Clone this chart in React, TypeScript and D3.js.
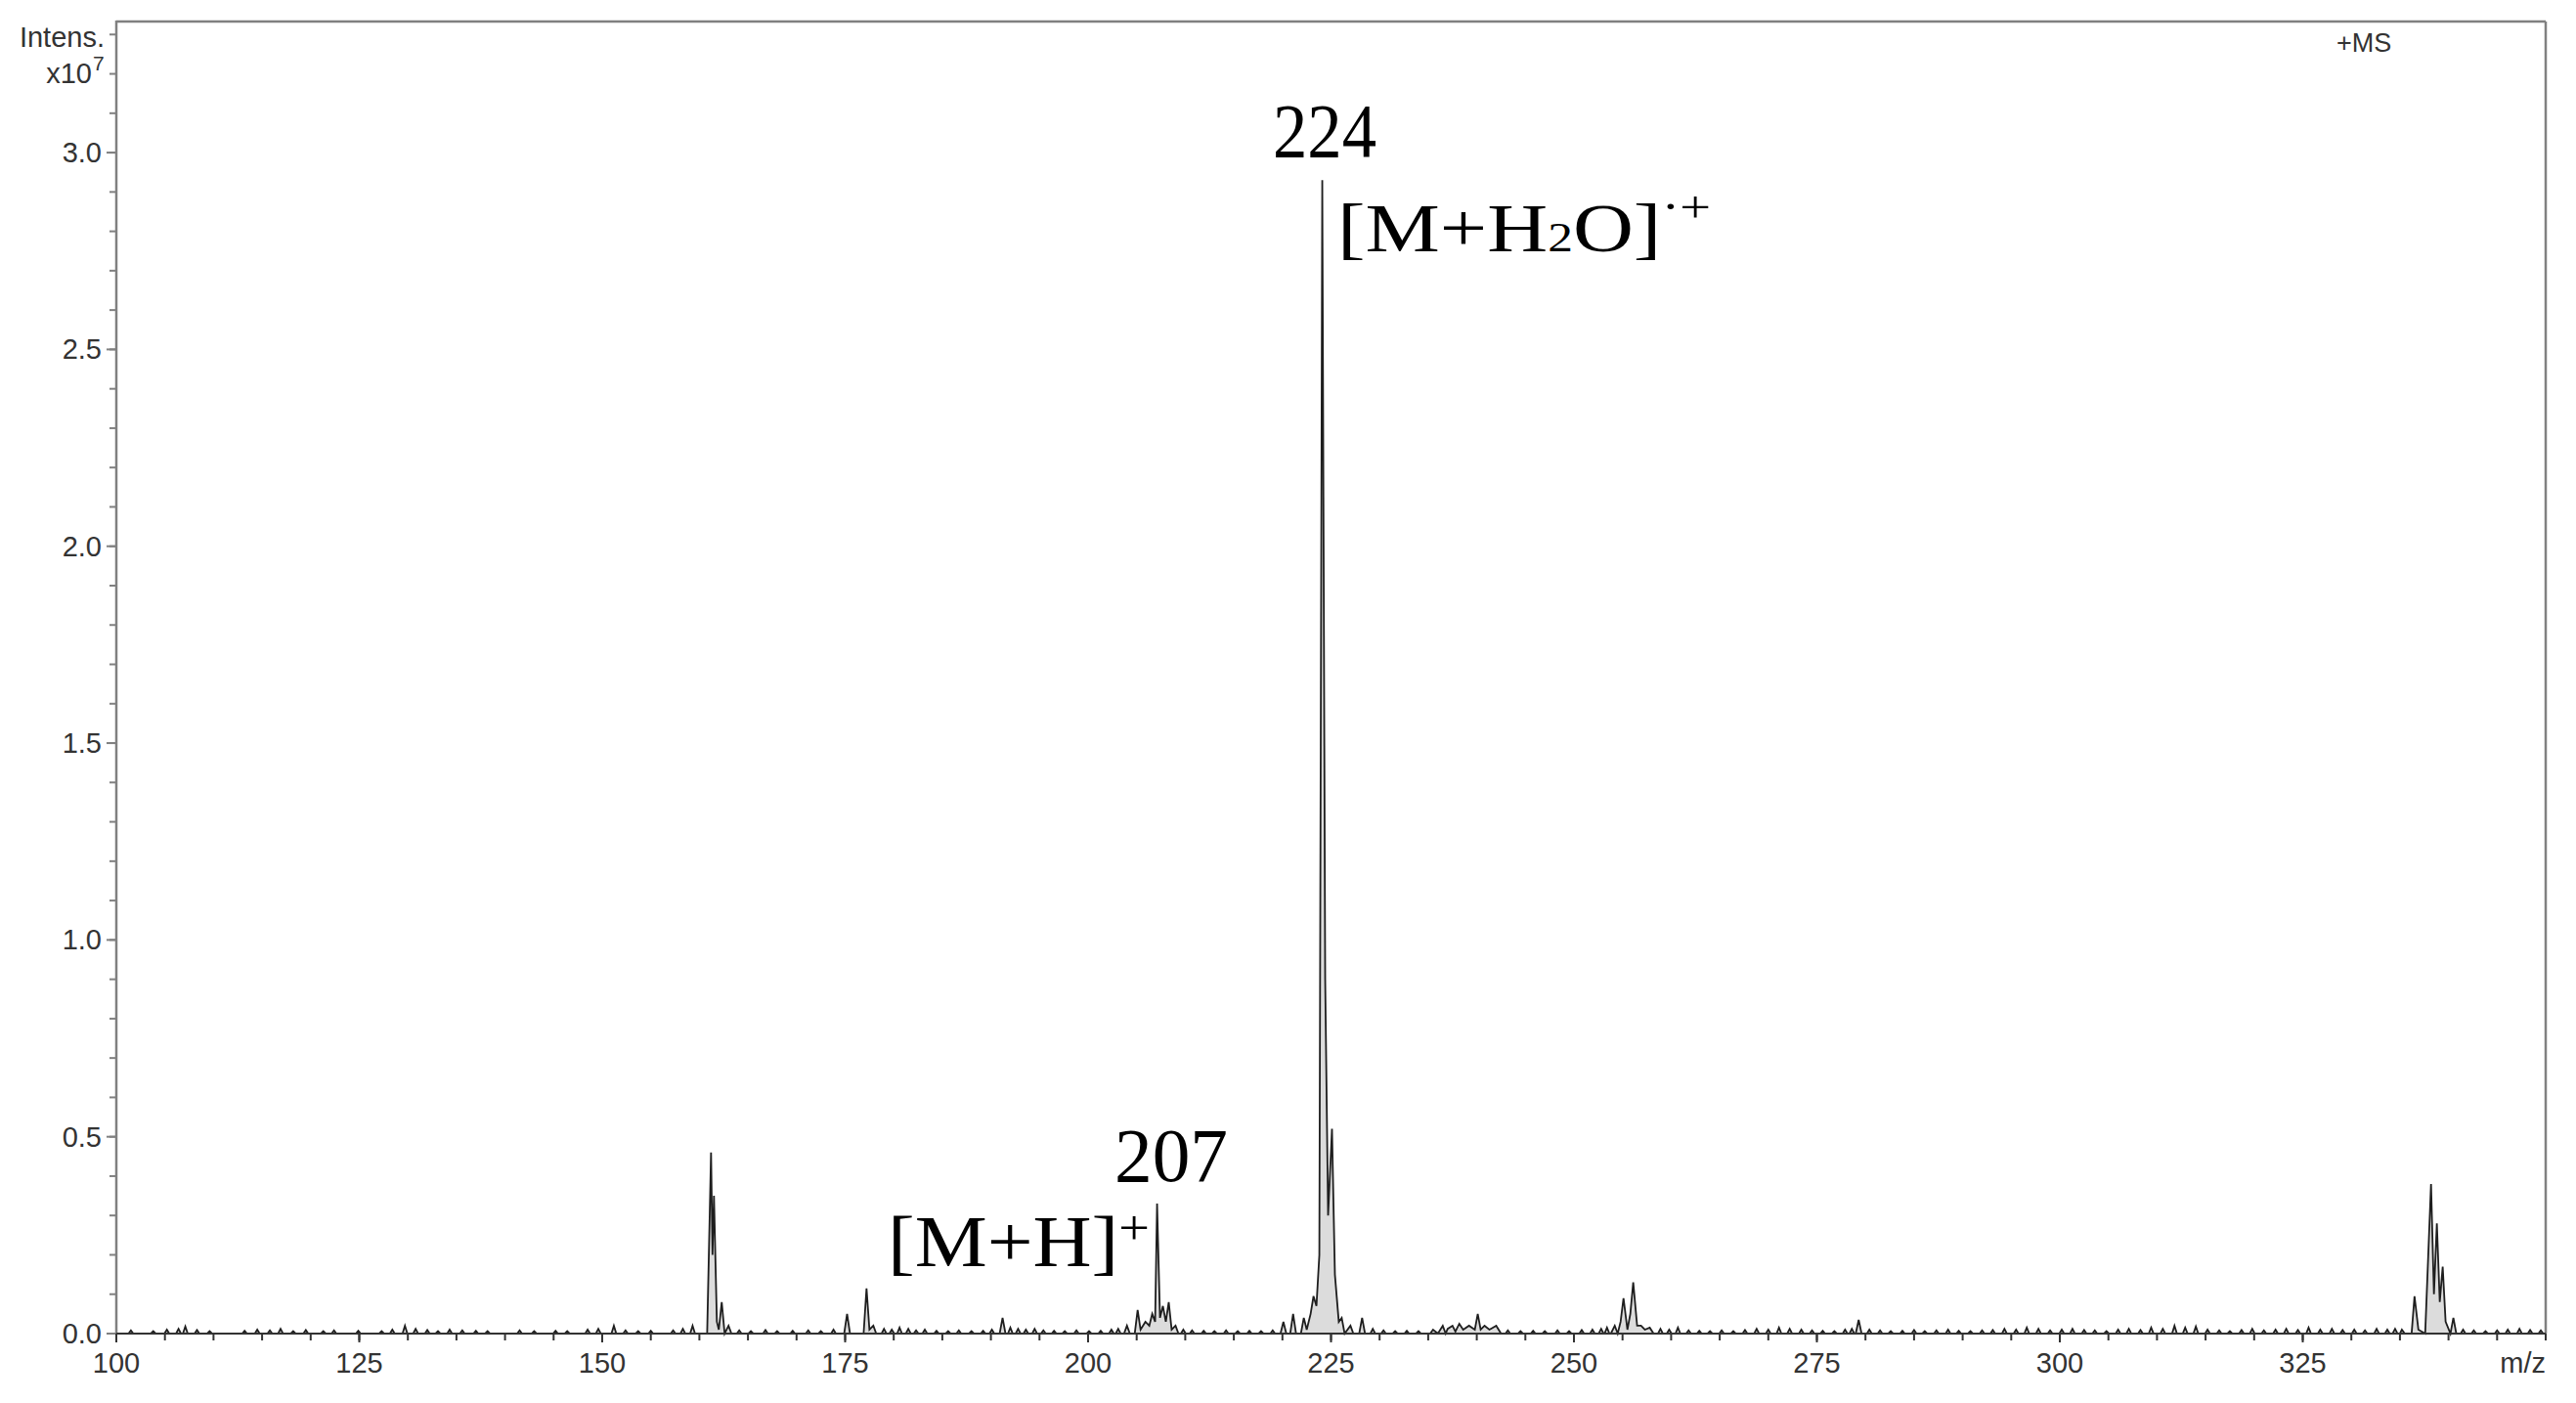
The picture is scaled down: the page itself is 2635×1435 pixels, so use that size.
import React, { useEffect } from 'react';
import * as d3 from 'd3';

// ---- data (intensity in units of 1e7) ----
const xTickValues = [100, 125, 150, 175, 200, 225, 250, 275, 300, 325];
const yTickValues = [0, 0.5, 1.0, 1.5, 2.0, 2.5, 3.0];

// explicit profile points of the peak clusters [m/z, intensity]
const cluster161: [number, number][] = [
  [160.8, 0], [161.2, 0.46], [161.35, 0.2], [161.5, 0.35], [161.8, 0.03], [162.0, 0.01], [162.3, 0.08], [162.6, 0], [163.0, 0.02], [163.3, 0],
];
const cluster177: [number, number][] = [
  [174.9, 0], [175.2, 0.05], [175.5, 0], [176.9, 0], [177.2, 0.115], [177.5, 0.01], [177.9, 0.02], [178.2, 0],
];
const cluster191: [number, number][] = [[190.9, 0], [191.2, 0.04], [191.5, 0]];
const cluster207: [number, number][] = [
  [203.7, 0], [204.0, 0.02], [204.3, 0], [204.8, 0], [205.1, 0.06], [205.4, 0.01], [205.9, 0.03], [206.3, 0.02], [206.6, 0.05],
  [206.9, 0.03], [207.1, 0.33], [207.4, 0.04], [207.7, 0.07], [208.0, 0.03], [208.3, 0.08], [208.6, 0.01], [209.0, 0.02], [209.3, 0],
];
const cluster224: [number, number][] = [
  [219.8, 0], [220.1, 0.03], [220.4, 0], [220.8, 0], [221.1, 0.05], [221.4, 0], [221.9, 0], [222.2, 0.04], [222.5, 0.01],
  [222.9, 0.05], [223.2, 0.095], [223.5, 0.07], [223.8, 0.2], [224.1, 2.93], [224.4, 0.9], [224.7, 0.3], [225.1, 0.52],
  [225.4, 0.15], [225.8, 0.03], [226.1, 0.04], [226.4, 0], [227.0, 0.02], [227.3, 0], [227.9, 0], [228.2, 0.04], [228.5, 0],
];
const cluster240: [number, number][] = [
  [235.2, 0], [235.5, 0.01], [236.0, 0], [236.5, 0.02], [236.8, 0], [237.0, 0.012], [237.5, 0.02], [237.8, 0.005], [238.2, 0.025],
  [238.6, 0.01], [239.2, 0.02], [239.8, 0.01], [240.1, 0.05], [240.4, 0.01], [240.8, 0.02], [241.3, 0.01], [242.0, 0.02], [242.5, 0],
];
const cluster256: [number, number][] = [
  [253.8, 0], [254.2, 0.02], [254.5, 0], [254.8, 0.03], [255.1, 0.09], [255.5, 0.01], [255.8, 0.05], [256.1, 0.13], [256.5, 0.02],
  [256.9, 0.02], [257.3, 0.01], [257.8, 0.015], [258.2, 0],
];
const cluster279: [number, number][] = [[279.0, 0], [279.3, 0.035], [279.6, 0]];
const cluster338: [number, number][] = [
  [335.0, 0], [335.2, 0.01], [335.5, 0], [336.2, 0], [336.5, 0.095], [336.9, 0.01], [337.6, 0], [338.2, 0.38], [338.5, 0.1],
  [338.8, 0.28], [339.1, 0.08], [339.4, 0.17], [339.7, 0.03], [340.2, 0], [340.5, 0.04], [340.8, 0],
];

// baseline noise sticks [m/z, intensity]
const noiseSticks: [number, number][] = [
  [101.5, .008], [103.8, .006], [105.2, .01], [106.4, .012], [107.1, .018], [108.3, .009], [109.6, .006], [113.2, .007],
  [114.5, .01], [115.8, .008], [116.9, .012], [118.2, .006], [119.5, .009], [121.3, .006], [122.4, .008], [124.9, .007],
  [127.3, .006], [128.4, .01], [129.7, .02], [130.8, .012], [132.0, .009], [133.1, .006], [134.3, .01], [135.6, .008],
  [137.0, .007], [138.2, .006], [141.5, .008], [143.0, .006], [145.2, .007], [146.4, .006], [148.5, .01], [149.6, .012],
  [151.2, .02], [152.4, .008], [153.7, .006], [155.0, .007], [157.3, .008], [158.3, .012], [159.3, .02],
  [164.1, .008], [165.3, .006], [166.8, .009], [168.0, .006], [169.6, .007], [171.2, .008], [172.5, .006], [173.8, .01],
  [179.0, .012], [179.8, .01], [180.6, .015], [181.5, .012], [182.3, .008], [183.2, .01], [184.4, .007], [185.6, .006],
  [186.7, .008], [188.0, .006], [189.2, .007], [190.1, .01],
  [192.0, .015], [192.8, .012], [193.6, .01], [194.5, .012], [195.4, .008], [196.5, .007], [197.6, .006], [198.8, .008],
  [200.1, .006], [201.3, .007], [202.4, .01], [203.1, .012],
  [209.8, .01], [210.7, .008], [211.9, .007], [213.0, .006], [214.2, .008], [215.4, .006], [216.6, .007], [217.8, .006], [219.0, .008],
  [229.3, .012], [230.4, .008], [231.6, .006], [232.8, .007], [234.0, .006],
  [243.2, .008], [244.5, .006], [245.8, .007], [247.0, .006], [248.3, .008], [249.5, .006], [250.8, .009], [251.9, .01],
  [252.8, .012], [253.4, .015],
  [258.9, .012], [259.8, .01], [260.7, .015], [261.8, .008], [262.9, .007], [264.0, .006], [265.2, .008], [266.4, .006],
  [267.6, .009], [268.8, .012], [270.0, .01], [271.1, .015], [272.2, .012], [273.4, .01], [274.5, .008], [275.6, .007],
  [276.8, .006], [277.9, .01], [278.6, .012],
  [280.4, .01], [281.5, .008], [282.6, .006], [283.8, .007], [285.0, .009], [286.1, .006], [287.3, .008], [288.5, .01],
  [289.6, .007], [290.8, .006], [292.0, .008], [293.1, .009], [294.3, .012], [295.5, .01], [296.6, .015], [297.8, .012],
  [299.0, .008], [300.2, .01], [301.3, .012], [302.5, .009], [303.6, .008], [304.8, .006], [306.0, .01], [307.1, .012],
  [308.3, .009], [309.4, .015], [310.6, .012], [311.8, .02], [312.9, .015], [314.0, .018], [315.2, .01], [316.4, .008],
  [317.5, .006], [318.7, .009], [319.8, .012], [321.0, .008], [322.2, .01], [323.3, .012], [324.5, .009], [325.6, .015],
  [326.8, .01], [328.0, .012], [329.1, .009], [330.3, .01], [331.4, .008], [332.6, .012], [333.7, .01], [334.5, .012],
  [341.5, .01], [342.6, .008], [343.8, .006], [345.0, .008], [346.1, .01], [347.3, .012], [348.4, .009], [349.5, .008],
];

const X_DOMAIN: [number, number] = [100, 350];
const Y_DOMAIN: [number, number] = [0, 3.333];

export default function App() {
  useEffect(() => {
    document.body.style.margin = '0';
  }, []);

  const W = 2635, H = 1435;
  const left = 119, right = 2604, top = 22, bottom = 1364;
  const x = d3.scaleLinear().domain(X_DOMAIN).range([left, right]);
  const y = d3.scaleLinear().domain(Y_DOMAIN).range([bottom, top]);

  const stickHalf = 0.25;
  const pts: [number, number][] = [[100, 0], [350, 0]];
  [cluster161, cluster177, cluster191, cluster207, cluster224, cluster240, cluster256, cluster279, cluster338].forEach(c =>
    c.forEach(p => pts.push(p)));
  noiseSticks.forEach(([m, h]) => {
    pts.push([m - stickHalf, 0], [m, h], [m + stickHalf, 0]);
  });
  pts.sort((a, b) => a[0] - b[0]);

  const line = d3.line<[number, number]>().x(d => x(d[0])).y(d => y(d[1]));
  const area = d3.area<[number, number]>().x(d => x(d[0])).y0(y(0)).y1(d => y(d[1]));

  const yMinor = d3.range(0, 3.31, 0.1);
  const xMinor = d3.range(100, 350.1, 5);

  const axisColor = '#808080';
  const labelColor = '#333';
  const sans = '"Liberation Sans", Arial, sans-serif';
  const serif = '"Liberation Serif", "Times New Roman", serif';

  return (
    <svg width={W} height={H} style={{ position: 'absolute', left: 0, top: 0, display: 'block', background: '#fff' }}>
      <rect x={0} y={0} width={W} height={H} fill="#fff" />
      {/* spectrum */}
      <path d={area(pts) || ''} fill="#dcdcdc" stroke="none" />
      <path d={line(pts) || ''} fill="none" stroke="#1e1e1e" strokeWidth={1.8} strokeLinejoin="miter" />

      {/* frame */}
      <line x1={left} y1={top} x2={right} y2={top} stroke={axisColor} strokeWidth={2.5} />
      <line x1={right} y1={top} x2={right} y2={bottom} stroke={axisColor} strokeWidth={2.5} />
      <line x1={left} y1={top - 1} x2={left} y2={bottom} stroke={axisColor} strokeWidth={2.5} />
      <line x1={left} y1={bottom} x2={right} y2={bottom} stroke="#333" strokeWidth={2} />

      {/* y ticks */}
      {yMinor.map((v, i) => (
        <line key={'ym' + i} x1={left - 7} x2={left} y1={y(v)} y2={y(v)} stroke={axisColor} strokeWidth={2} />
      ))}
      {yTickValues.map((v, i) => (
        <g key={'y' + i}>
          <line x1={left - 10} x2={left} y1={y(v)} y2={y(v)} stroke={axisColor} strokeWidth={2} />
          <text x={104} y={y(v) + 10} textAnchor="end" fontFamily={sans} fontSize={29} fill={labelColor}>
            {d3.format('.1f')(v)}
          </text>
        </g>
      ))}

      {/* x ticks */}
      {xMinor.map((v, i) => (
        <line key={'xm' + i} x1={x(v)} x2={x(v)} y1={bottom} y2={bottom + 7} stroke="#333" strokeWidth={2} />
      ))}
      {xTickValues.map((v, i) => (
        <g key={'x' + i}>
          <line x1={x(v)} x2={x(v)} y1={bottom} y2={bottom + 9} stroke="#333" strokeWidth={2} />
          <text x={x(v)} y={1404} textAnchor="middle" fontFamily={sans} fontSize={29} fill={labelColor}>
            {v}
          </text>
        </g>
      ))}
      <text x={right} y={1404} textAnchor="end" fontFamily={sans} fontSize={29} fill={labelColor}>m/z</text>

      {/* axis title */}
      <text x={107} y={48} textAnchor="end" fontFamily={sans} fontSize={29} fill={labelColor}>Intens.</text>
      <text x={94} y={85} textAnchor="end" fontFamily={sans} fontSize={29} fill={labelColor}>x10</text>
      <text x={95} y={72} textAnchor="start" fontFamily={sans} fontSize={21} fill={labelColor}>7</text>

      <text x={2390} y={53} fontFamily={sans} fontSize={27} fill={labelColor}>+MS</text>

      {/* annotations */}
      <text x={1302} y={160} fontFamily={serif} fontSize={78} fill="#000" textLength={106} lengthAdjust="spacingAndGlyphs">224</text>
      <text x={1368} y={257} fontFamily={serif} fontSize={70} fill="#000" textLength={382} lengthAdjust="spacingAndGlyphs">
        [M+H<tspan fontSize={42}>2</tspan>O]<tspan fontSize={46} dy={-30}>·+</tspan>
      </text>
      <text x={1140} y={1208} fontFamily={serif} fontSize={78} fill="#000" textLength={116} lengthAdjust="spacingAndGlyphs">207</text>
      <text x={908} y={1295} fontFamily={serif} fontSize={74} fill="#000" textLength={268} lengthAdjust="spacingAndGlyphs">
        [M+H]<tspan fontSize={50} dy={-22}>+</tspan>
      </text>
    </svg>
  );
}
